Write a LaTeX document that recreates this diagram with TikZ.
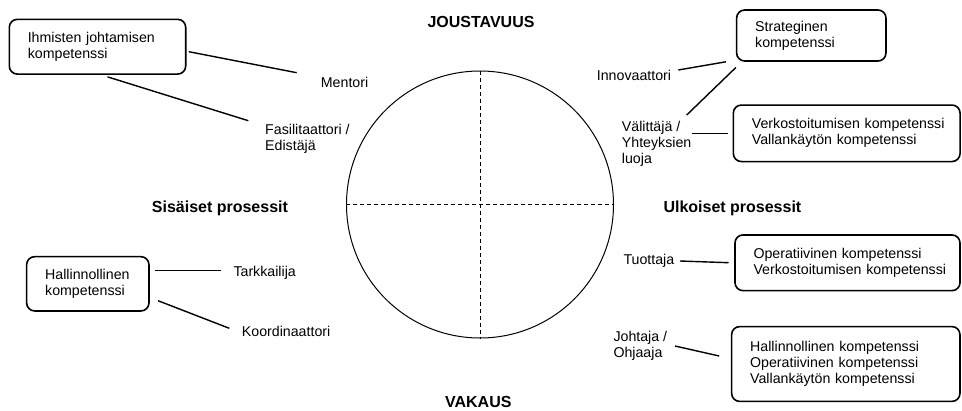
\documentclass[tikz,border=0pt]{standalone}
\usepackage{fontspec}
\setmainfont{Liberation Sans}
\usetikzlibrary{calc}
\begin{document}
\begin{tikzpicture}[x=1pt,y=-1pt,
  every node/.style={font=\fontsize{14.2}{16}\selectfont},
  lbl/.style={anchor=base west, inner sep=0pt, align=left},
  heading/.style={font=\fontsize{16}{18}\selectfont\bfseries, inner sep=0pt},
  compbox/.style={draw, rounded corners=8pt, line width=1.6pt, align=left,
    inner xsep=0pt, inner ysep=0pt},
  link/.style={line width=1.4pt},
  axis/.style={line width=0.9pt, dash pattern=on 4pt off 3pt},
]
\useasboundingbox (0,0) rectangle (962,410);

% central circle with its two dashed axes
\node[circle, draw, line width=1pt, minimum size=267pt, inner sep=0pt] (c) at (480,204.5) {};
\draw[axis] (c.north) -- (c.south);
\draw[axis] (c.west) -- (c.east);

% axis headings
\node[heading, anchor=base] (jous) at (481,27.3) {JOUSTAVUUS};
\node[heading, anchor=base] (vak) at (478.3,407) {VAKAUS};
\node[heading, anchor=base west] (sis) at (151.7,212.7) {Sisäiset prosessit};
\node[heading, anchor=base west] (ulk) at (663.3,212.7) {Ulkoiset prosessit};

% roles (base = baseline of the last line)
\node[lbl] (mentori) at (320.7,87) {Mentori};
\node[lbl] (fasil) at (265,150) {Fasilitaattori /\\Edistäjä};
\node[lbl] (innov) at (596.7,80) {Innovaattori};
\node[lbl] (valit) at (621.7,163.5) {Välittäjä /\\Yhteyksien\\luoja};
\node[lbl] (tarkk) at (233.3,276) {Tarkkailija};
\node[lbl] (koord) at (241.7,336) {Koordinaattori};
\node[lbl] (tuott) at (623.3,264.3) {Tuottaja};
\node[lbl] (johta) at (613.3,357.7) {Johtaja /\\Ohjaaja};

% competence boxes
\node[compbox, minimum width=176.4pt, minimum height=54.7pt, text width=139.4pt]
  (ihm) at (97.5,46.7) {Ihmisten johtamisen\\kompetenssi};
\node[compbox, minimum width=149.3pt, minimum height=51pt, text width=112.3pt]
  (strat) at (811.3,35.5) {Strateginen\\kompetenssi};
\node[compbox, minimum width=226.7pt, minimum height=56.5pt, text width=189.7pt]
  (verk) at (846.7,133.3) {\mbox{Verkostoitumisen kompetenssi}\\Vallankäytön kompetenssi};
\node[compbox, minimum width=122.3pt, minimum height=54.3pt, text width=85.3pt]
  (hall) at (87.8,283.8) {Hallinnollinen\\kompetenssi};
\node[compbox, minimum width=225pt, minimum height=55.7pt, text width=188pt]
  (oper) at (847.5,262.8) {Operatiivinen kompetenssi\\\mbox{Verkostoitumisen kompetenssi}};
\node[compbox, minimum width=228.3pt, minimum height=74.8pt, text width=191.3pt]
  (kolme) at (845.8,364) {Hallinnollinen kompetenssi\\Operatiivinen kompetenssi\\Vallankäytön kompetenssi};

% connectors between boxes and roles
\draw[link] ($(ihm.east)+(2.3,5)$) -- ($(mentori.base west)+(-24,-14.3)$);
\draw[link] ($(ihm.south west)+(99,2)$) -- ($(fasil.base west)+(-16.7,-29.3)$);
\draw[link] ($(innov.base west)+(81.6,-10)$) -- ($(strat.south west)+(-10,0)$);
\draw[link] ($(valit.base west)+(65,-48.5)$) -- ($(strat.south west)+(0,5.7)$);
\draw[link] ($(valit.base west)+(70,-30.2)$) -- ($(verk.west)+(-5,0)$);
\draw[link] ($(hall.east)+(5.3,-13.1)$) -- ($(tarkk.base west)+(-12.3,-5.3)$);
\draw[link] ($(hall.east)+(8.3,16.9)$) -- ($(koord.base west)+(-12.4,-7.7)$);
\draw[link] ($(tuott.base west)+(56.7,-3.3)$) -- ($(oper.west)+(-5.7,-0.1)$);
\draw[link] ($(johta.base west)+(61.7,-11.7)$) -- ($(kolme.west)+(-11.7,-8)$);
\end{tikzpicture}
\end{document}
